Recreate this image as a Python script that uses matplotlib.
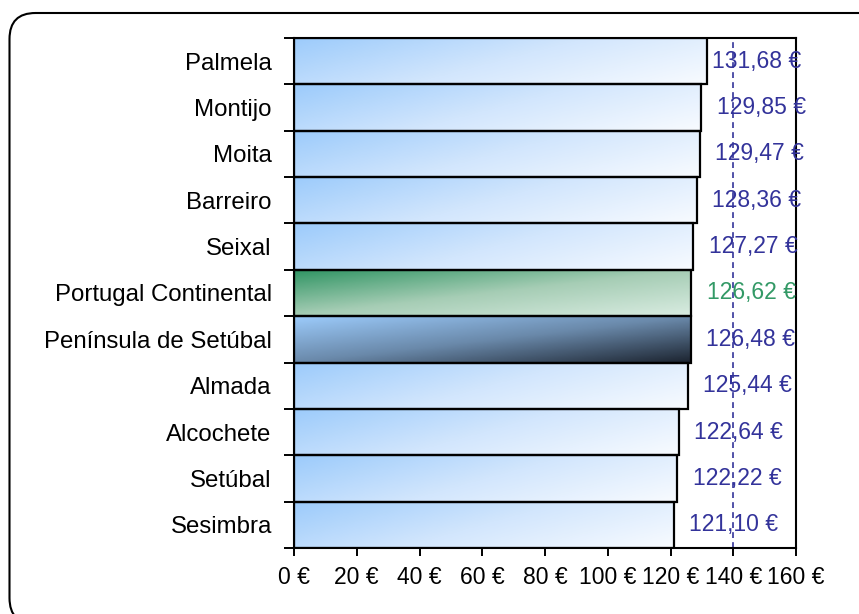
#!/usr/bin/env python3
"""Horizontal bar chart of per-municipality values with gradient-filled bars."""

import numpy as np
import matplotlib

matplotlib.use("Agg")
import matplotlib.pyplot as plt
from matplotlib.colors import LinearSegmentedColormap
from matplotlib.patches import Rectangle, FancyBboxPatch

plt.rcParams["font.family"] = ["Liberation Sans", "DejaVu Sans"]

# top to bottom
categories = ["Palmela", "Montijo", "Moita", "Barreiro", "Seixal",
              "Portugal Continental", "Península de Setúbal", "Almada",
              "Alcochete", "Setúbal", "Sesimbra"]
values = [131.68, 129.85, 129.47, 128.36, 127.27, 126.62, 126.48, 125.44,
          122.64, 122.22, 121.10]
reference_line = 140
x_ticks = [0, 20, 40, 60, 80, 100, 120, 140, 160]

LABEL_BLUE = "#33339a"
LABEL_GREEN = "#339966"
# colour stops and x-weight of each diagonal gradient
GRADIENTS = {
    "blue": (["#9ccbfb", "#d2e6fd", "#f8fbff"], 0.7),
    "green": (["#2f9463", "#a6cdb5", "#d9ece1"], 0.5),
    "dark": (["#9ccbfb", "#6a89aa", "#1c2430"], 0.5),
}


def style_for(name):
    if name == "Portugal Continental":
        return "green", LABEL_GREEN
    if name == "Península de Setúbal":
        return "dark", LABEL_BLUE
    return "blue", LABEL_BLUE


def fmt_eur(v):
    return f"{v:.2f}".replace(".", ",") + " €"


W, H = 859, 614
fig = plt.figure(figsize=(W / 100, H / 100), dpi=100)
ax = fig.add_axes([294 / W, 1 - 548 / H, (796 - 294) / W, (548 - 38) / H])

n = len(categories)
ys = np.arange(n)[::-1]  # first category on top

gx, gy = np.meshgrid(np.linspace(0, 1, 200), np.linspace(0, 1, 40))

labels = []
for name, val, y in zip(categories, values, ys):
    grad, lab_color = style_for(name)
    colors, wx = GRADIENTS[grad]
    cmap = LinearSegmentedColormap.from_list(grad, colors)
    field = wx * gx + (1 - wx) * gy
    x0, y0, h = 0, y - 0.5, 1.0
    im = ax.imshow(field, cmap=cmap, vmin=0, vmax=1, aspect="auto",
                   extent=(x0, val, y0, y0 + h), origin="upper", zorder=2)
    rect = Rectangle((x0, y0), val, h, facecolor="none", edgecolor="black",
                     linewidth=1.6, zorder=3)
    ax.add_patch(rect)
    im.set_clip_path(rect)
    t = ax.annotate(fmt_eur(val), xy=(val, y), xytext=(11, 0),
                    textcoords="offset points", ha="left", va="center",
                    fontsize=16.5, color=lab_color, zorder=4)
    labels.append(t)

ax.axvline(reference_line, color=LABEL_BLUE, linestyle=(0, (3.5, 2.5)),
           linewidth=1.2, zorder=1)

ax.set_xlim(0, 160)
ax.set_ylim(-0.5, n - 0.5)
ax.set_xticks(x_ticks)
ax.set_xticklabels([f"{t} €" for t in x_ticks], fontsize=16.5)
ax.set_yticks(ys)
ax.set_yticklabels(categories, fontsize=17.3)
ax.tick_params(axis="y", length=0, pad=16)
ax.set_yticks(np.arange(n + 1) - 0.5, minor=True)
ax.tick_params(axis="y", which="minor", length=7, width=1.4, direction="out")
ax.tick_params(axis="x", length=6, width=1.4, direction="out", pad=7)
for s in ax.spines.values():
    s.set_linewidth(1.5)

# a label that would run well past the plot gets pulled back inside
fig.canvas.draw()
renderer = fig.canvas.get_renderer()
for t in labels:
    bb = t.get_window_extent(renderer)
    if bb.x1 > 810:
        over = bb.x1 - 801
        t.set_position((11 - over * 72 / 100, 0))

# rounded outer frame (right and bottom sides run off the image)
left, right, top, bottom = 9.5, 890, 13, 624   # pixels from top-left
frame = FancyBboxPatch((left / W, 1 - bottom / H), (right - left) / W,
                       (bottom - top) / H,
                       boxstyle=f"round,pad=0,rounding_size={26 / W}",
                       mutation_aspect=W / H,
                       transform=fig.transFigure, facecolor="none",
                       edgecolor="black", linewidth=1.5, clip_on=False)
fig.patches.append(frame)

fig.savefig("out.png", dpi=100)
